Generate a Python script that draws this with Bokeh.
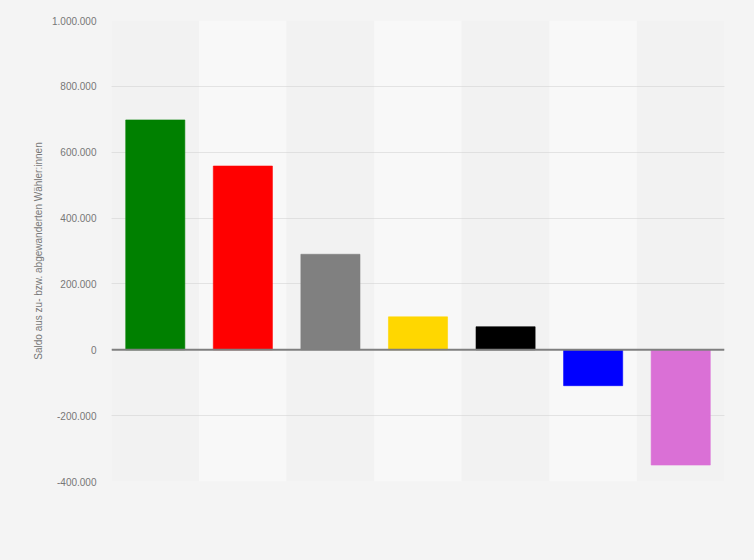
from bokeh.plotting import figure
from bokeh.models import Range1d, Span, CustomJSTickFormatter, FixedTicker, ColumnDataSource
from bokeh.embed import file_html
from bokeh.resources import INLINE

# Data
categories = ["Kategorie 1", "Kategorie 2", "Kategorie 3", "Kategorie 4",
              "Kategorie 5", "Kategorie 6", "Kategorie 7"]
saldo = [698000, 558000, 290000, 100000, 70000, -109000, -350000]
bar_colors = ["#008000", "#ff0000", "#808080", "#ffd700", "#000000", "#0000ff", "#da70d6"]
y_ticks = [-400000, -200000, 0, 200000, 400000, 600000, 800000, 1000000]

BG = "#f4f4f4"
x = list(range(1, len(categories) + 1))

p = figure(width=754, height=560, output_backend="svg", toolbar_location=None,
           x_range=Range1d(0.5, len(categories) + 0.5),
           y_range=Range1d(y_ticks[0], y_ticks[-1]),
           min_border_left=111, min_border_right=30,
           min_border_top=20, min_border_bottom=79)
p.background_fill_color = BG
p.border_fill_color = BG
p.outline_line_color = None

# alternating column bands
band_colors = ["#f2f2f2" if i % 2 == 0 else "#f8f8f8" for i in range(len(categories))]
bands = ColumnDataSource(dict(x=x, color=band_colors))
r = p.vbar(x="x", width=1, top=y_ticks[-1], bottom=y_ticks[0], fill_color="color",
           line_color=None, source=bands)
r.level = "image"

src = ColumnDataSource(dict(x=x, top=saldo, color=bar_colors, cat=categories))
p.vbar(x="x", top="top", bottom=0, width=0.675, fill_color="color", line_color="color",
       line_alpha=0.6, source=src)

p.add_layout(Span(location=0, dimension="width", line_color="#7f7f7f", line_width=2))

p.xaxis.visible = False
p.xgrid.visible = False
p.ygrid.grid_line_color = "#cfcfcf"
p.ygrid.grid_line_dash = "1 1"
p.ygrid.grid_line_width = 1

ax = p.yaxis[0]
ax.ticker = FixedTicker(ticks=y_ticks)
ax.formatter = CustomJSTickFormatter(code="""
return Math.round(tick).toString().replace(/\\B(?=(\\d{3})+(?!\\d))/g, '.');
""")
ax.axis_line_color = None
ax.major_tick_line_color = None
ax.minor_tick_line_color = None
ax.major_label_text_font = "Liberation Sans"
ax.major_label_text_font_size = "10px"
ax.major_label_text_color = "#777777"
ax.major_label_standoff = 9
ax.axis_label = "Saldo aus zu- bzw. abgewanderten Wähler:innen"
ax.axis_label_text_font = "Liberation Sans"
ax.axis_label_text_font_size = "10px"
ax.axis_label_text_font_style = "normal"
ax.axis_label_text_color = "#777777"
ax.axis_label_standoff = 5

html = file_html(p, INLINE)
html = html.replace("<head>", "<head><style>body{background:%s;}</style>" % BG, 1)
open("out.html", "w").write(html)
